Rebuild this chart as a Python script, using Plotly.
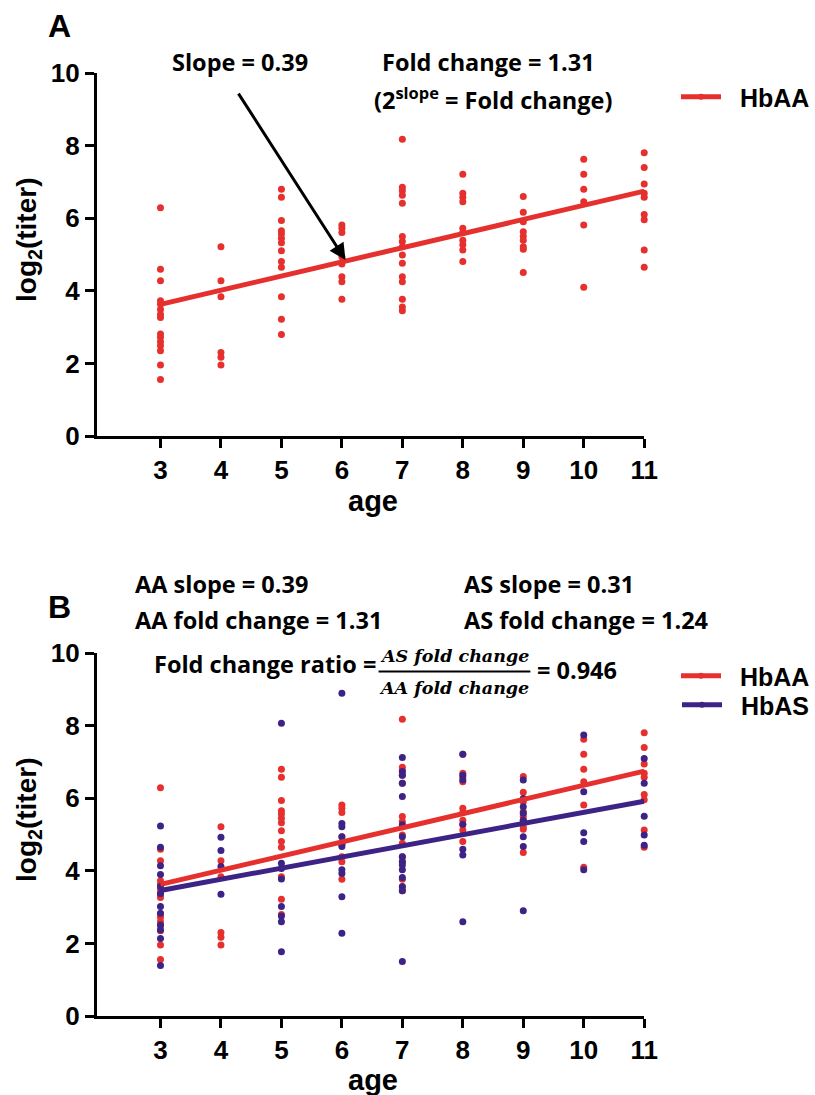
import plotly.graph_objects as go

W, H = 815, 1095


def px(x):
    return x / W


def py(y):
    return 1 - y / H


# ---------------- data ----------------
age_ticks = [3, 4, 5, 6, 7, 8, 9, 10, 11]
titer_ticks = [0, 2, 4, 6, 8, 10]

aa_age = ([3] * 15 + [4] * 6 + [5] * 13 + [6] * 8 + [7] * 15 + [8] * 10 + [9] * 9
          + [10] * 6 + [11] * 9)
aa_titer = [
    6.29, 4.60, 4.28, 3.73, 3.63, 3.49, 3.35, 3.27, 2.81, 2.72, 2.60, 2.49, 2.35, 1.96, 1.56,
    5.22, 4.28, 3.84, 2.30, 2.17, 1.96,
    6.80, 6.58, 5.94, 5.66, 5.57, 5.45, 5.33, 5.11, 4.81, 4.65, 3.84, 3.22, 2.80,
    5.82, 5.73, 5.61, 4.94, 4.74, 4.39, 4.25, 3.77,
    8.18, 6.86, 6.76, 6.64, 6.42, 5.50, 5.36, 5.22, 4.99, 4.76, 4.39, 4.25, 3.77, 3.56, 3.45,
    7.22, 6.69, 6.58, 6.46, 5.73, 5.61, 5.40, 5.27, 5.13, 4.81,
    6.60, 6.17, 5.91, 5.63, 5.51, 5.40, 5.22, 5.15, 4.51,
    7.63, 7.22, 6.80, 6.46, 5.82, 4.10,
    7.81, 7.40, 6.95, 6.69, 6.58, 6.11, 5.96, 5.13, 4.65,
]

as_age = ([3] * 12 + [4] * 4 + [5] * 8 + [6] * 10 + [7] * 15 + [8] * 7 + [9] * 8
          + [10] * 5 + [11] * 5)
as_titer = [
    5.24, 4.65, 4.14, 3.90, 3.57, 3.38, 3.02, 2.83, 2.51, 2.37, 2.14, 1.39,
    4.93, 4.56, 4.12, 3.36,
    8.07, 4.21, 4.07, 3.78, 3.02, 2.76, 2.60, 1.77,
    8.90, 5.31, 5.22, 4.94, 4.74, 4.67, 4.03, 3.93, 3.29, 2.28,
    7.13, 6.74, 6.64, 6.42, 6.05, 5.27, 4.94, 4.39, 4.25, 4.16, 4.03, 3.82, 3.57, 3.45, 1.50,
    7.22, 6.64, 6.51, 5.29, 4.60, 4.44, 2.60,
    6.51, 6.00, 5.77, 5.59, 5.40, 4.94, 4.67, 2.90,
    7.75, 6.18, 5.05, 4.81, 4.03,
    7.10, 6.42, 5.51, 4.99, 4.71,
]

aa_slope, aa_intercept = 0.39, 2.46
as_slope, as_intercept = 0.3075, 2.54
fit_age = [age_ticks[0], age_ticks[-1]]
aa_fit = [aa_intercept + aa_slope * a for a in fit_age]
as_fit = [as_intercept + as_slope * a for a in fit_age]

# ---------------- style ----------------
RED = "#E5302E"
PURPLE = "#3C2385"
SANS = "Liberation Sans, Arial, sans-serif"
TEXTF = "Open Sans, Lato, sans-serif"
SERIF = "DejaVu Serif, Liberation Serif, serif"
NB = "\u00a0\u00a0"

tick_font = dict(family=SANS, size=26, color="black", weight="bold")
axis_common = dict(showline=True, linecolor="black", linewidth=3, ticks="outside",
                   ticklen=9, tickwidth=3, tickcolor="black", showgrid=False,
                   zeroline=False, tickfont=tick_font, automargin=False, fixedrange=True)

fig = go.Figure()

# Panel A
fig.add_trace(go.Scatter(x=aa_age, y=aa_titer, mode="markers", xaxis="x", yaxis="y",
                         marker=dict(color=RED, size=7), showlegend=False, cliponaxis=False))
fig.add_trace(go.Scatter(x=fit_age, y=aa_fit, mode="lines+markers", xaxis="x", yaxis="y",
                         line=dict(color=RED, width=5), marker=dict(color=RED, size=6),
                         selectedpoints=[], unselected=dict(marker=dict(opacity=0)),
                         name=NB + "HbAA", legend="legend", cliponaxis=False))

# Panel B
fig.add_trace(go.Scatter(x=aa_age, y=aa_titer, mode="markers", xaxis="x2", yaxis="y2",
                         marker=dict(color=RED, size=7), showlegend=False, cliponaxis=False))
fig.add_trace(go.Scatter(x=as_age, y=as_titer, mode="markers", xaxis="x2", yaxis="y2",
                         marker=dict(color=PURPLE, size=7), showlegend=False, cliponaxis=False))
fig.add_trace(go.Scatter(x=fit_age, y=aa_fit, mode="lines+markers", xaxis="x2", yaxis="y2",
                         line=dict(color=RED, width=5), marker=dict(color=RED, size=6),
                         selectedpoints=[], unselected=dict(marker=dict(opacity=0)),
                         name=NB + "HbAA", legend="legend2", cliponaxis=False))
fig.add_trace(go.Scatter(x=fit_age, y=as_fit, mode="lines+markers", xaxis="x2", yaxis="y2",
                         line=dict(color=PURPLE, width=5), marker=dict(color=PURPLE, size=6),
                         selectedpoints=[], unselected=dict(marker=dict(opacity=0)),
                         name=NB + "HbAS", legend="legend3", cliponaxis=False))

xdom = [px(97), px(645)]
xrange = [1.948, 11]
fig.update_layout(
    width=W, height=H,
    margin=dict(l=0, r=0, t=0, b=0),
    paper_bgcolor="white", plot_bgcolor="white",
    xaxis=dict(domain=xdom, range=xrange, tickvals=age_ticks, anchor="y", **axis_common),
    yaxis=dict(domain=[py(436), py(73.3)], range=[0, 10], tickvals=titer_ticks, anchor="x",
               **axis_common),
    xaxis2=dict(domain=xdom, range=xrange, tickvals=age_ticks, anchor="y2", **axis_common),
    yaxis2=dict(domain=[py(1016), py(653.3)], range=[0, 10], tickvals=titer_ticks,
                anchor="x2", **axis_common),
    hovermode=False,
)

leg_common = dict(xanchor="left", yanchor="middle", bgcolor="rgba(0,0,0,0)",
                  font=dict(family=SANS, size=25, color="black", weight="bold"),
                  itemwidth=40, tracegroupgap=0)
fig.update_layout(
    legend=dict(x=px(677), y=py(97), **leg_common),
    legend2=dict(x=px(677), y=py(676), **leg_common),
    legend3=dict(x=px(677), y=py(705), **leg_common),
)

ann = []


def txt(text, x, y, size=23.5, family=TEXTF, xanchor="left", weight="bold", **kw):
    ann.append(dict(text=text, x=px(x), y=py(y), xref="paper", yref="paper",
                    xanchor=xanchor, yanchor="middle", showarrow=False,
                    font=dict(family=family, size=size, color="black", weight=weight), **kw))


# panel letters
txt("A", 46, 26, size=32, family=SANS)
txt("B", 46, 607, size=32, family=SANS)

# panel A annotations
txt("Slope = 0.39", 170, 62)
txt("Fold change = 1.31", 380, 62)
txt("(2<sup>slope</sup> = Fold change)", 372, 98)
ann.append(dict(x=6.06, y=4.85, xref="x", yref="y", ax=-108, ay=-168, axref="pixel",
                ayref="pixel", showarrow=True, arrowhead=2, arrowsize=1.1, arrowwidth=3,
                arrowcolor="black", text=""))

# axis titles
for yc in (240, 820):
    txt("log<sub>2</sub>(titer)", 28, yc, size=28, family=SANS, xanchor="center",
        textangle=-90)
txt("age", 373, 501, size=29, family=SANS, xanchor="center")
txt("age", 373, 1080, size=29, family=SANS, xanchor="center")

# panel B annotations
txt("AA slope = 0.39", 133, 584)
txt("AS slope = 0.31", 463, 584)
txt("AA fold change = 1.31", 133, 620)
txt("AS fold change = 1.24", 463, 620)
txt("Fold change ratio =", 152, 664)
txt("AS fold change", 455, 656, size=17.5, family=SERIF, xanchor="center")
txt("AA fold change", 455, 688, size=17.5, family=SERIF, xanchor="center")
txt("= 0.946", 536, 670)
fig.update_layout(annotations=ann)
for a in fig.layout.annotations:
    if a.text in ("AS fold change", "AA fold change"):
        a.font.style = "italic"

fig.add_shape(type="line", xref="paper", yref="paper", x0=px(379), x1=px(531),
              y0=py(671.5), y1=py(671.5), line=dict(color="black", width=2))

fig.write_html("out.html", config={"displayModeBar": False})
